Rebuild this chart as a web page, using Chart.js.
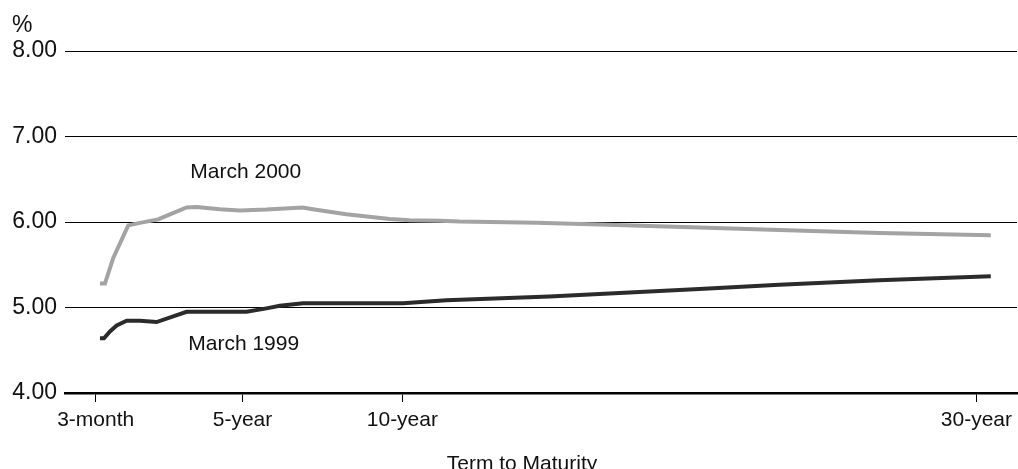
<!DOCTYPE html>
<html>
<head>
<meta charset="utf-8">
<script src="https://cdn.jsdelivr.net/npm/chart.js@4.4.1/dist/chart.umd.min.js"></script>
<style>
  html, body { margin: 0; padding: 0; background: #fff; }
  #wrap { width: 1018px; height: 469px; position: relative; }
</style>
</head>
<body>
<div id="wrap"><canvas id="c"></canvas></div>
<script>
// ---- Data (term in years, yield in %) ----
const mar2000Terms  = [0.395, 0.564, 0.844, 1.350, 1.745, 2.363, 2.757, 3.321, 3.658, 4.445, 5.119, 6.020, 6.469, 7.245, 7.583, 8.720, 10.181, 10.856, 11.868, 12.543, 15.131, 17.27, 20.64, 23.34, 26.716, 30.486];
const mar2000Yields = [5.28, 5.28, 5.58, 5.96, 5.99, 6.03, 6.09, 6.17, 6.175, 6.15, 6.135, 6.145, 6.155, 6.17, 6.15, 6.09, 6.035, 6.02, 6.015, 6.005, 5.99, 5.97, 5.935, 5.905, 5.87, 5.845];

const mar1999Terms  = [0.395, 0.53, 0.733, 0.959, 1.296, 1.745, 2.308, 2.869, 3.321, 5.346, 6.020, 6.469, 7.256, 10.630, 12.095, 15.58, 17.94, 20.64, 23.34, 26.716, 30.486];
const mar1999Yields = [4.64, 4.64, 4.72, 4.79, 4.845, 4.845, 4.83, 4.895, 4.95, 4.95, 4.99, 5.02, 5.05, 5.05, 5.085, 5.13, 5.17, 5.215, 5.265, 5.32, 5.365];

const xTickValues = [0.25, 5.21, 10.61, 30];
const xTickLabels = ['3-month', '5-year', '10-year', '30-year'];
const yTickValues = [4, 5, 6, 7, 8];

const seriesNames = ['March 2000', 'March 1999'];
// label anchor points in data units (term, yield)
const labelAnchors = [[5.32, 6.58], [5.25, 4.566]];

const FONT = '"Liberation Sans", Arial, Helvetica, sans-serif';

const pts = (xs, ys) => xs.map((x, i) => ({ x, y: ys[i] }));

const annot = {
  id: 'annot',
  afterDraw(chart) {
    const ctx = chart.ctx;
    const xs = chart.scales.x, ys = chart.scales.y;
    ctx.save();
    ctx.fillStyle = '#111';
    // series labels
    ctx.font = '21px ' + FONT;
    ctx.textAlign = 'center';
    ctx.textBaseline = 'middle';
    seriesNames.forEach((n, i) => {
      ctx.fillText(n, xs.getPixelForValue(labelAnchors[i][0]), ys.getPixelForValue(labelAnchors[i][1]));
    });
    // unit label
    ctx.font = '23px ' + FONT;
    ctx.textAlign = 'left';
    ctx.textBaseline = 'alphabetic';
    ctx.fillText('%', 12, 32);
    // axis title
    ctx.font = '21px ' + FONT;
    ctx.textAlign = 'center';
    ctx.fillText('Term to Maturity', 522, 470);
    ctx.restore();
  }
};

new Chart(document.getElementById('c'), {
  type: 'line',
  data: {
    datasets: [
      { label: seriesNames[0], data: pts(mar2000Terms, mar2000Yields), borderColor: '#a3a3a3', borderWidth: 4, pointRadius: 0, tension: 0, borderCapStyle: 'butt' },
      { label: seriesNames[1], data: pts(mar1999Terms, mar1999Yields), borderColor: '#2b2b2b', borderWidth: 4, pointRadius: 0, tension: 0, borderCapStyle: 'butt' }
    ]
  },
  options: {
    responsive: true,
    maintainAspectRatio: false,
    animation: false,
    devicePixelRatio: 1,
    layout: { padding: { top: 51, left: 0, right: 0, bottom: 0 } },
    plugins: { legend: { display: false }, tooltip: { enabled: false }, title: { display: false } },
    scales: {
      x: {
        type: 'linear',
        min: -0.786,
        max: 31.373,
        afterFit(s) { s.height = 76; },
        afterBuildTicks(s) { s.ticks = xTickValues.map(v => ({ value: v })); },
        grid: { drawOnChartArea: false, drawTicks: true, tickLength: 9, color: '#000', lineWidth: 1 },
        border: { display: true, color: '#000', width: 2.5 },
        ticks: {
          autoSkip: false, maxRotation: 0, padding: 6, color: '#111',
          font: { family: FONT, size: 21 },
          callback(v) { const i = xTickValues.indexOf(v); return i >= 0 ? xTickLabels[i] : ''; }
        }
      },
      y: {
        min: 4, max: 8,
        afterFit(s) { s.width = 65; },
        afterBuildTicks(s) { s.ticks = yTickValues.map(v => ({ value: v })); },
        grid: { drawTicks: false, color: '#000', lineWidth: 1 },
        border: { display: false },
        ticks: {
          padding: 8, color: '#111',
          font: { family: FONT, size: 23 },
          callback(v) { return Number(v).toFixed(2); }
        }
      }
    }
  },
  plugins: [annot]
});
</script>
</body>
</html>
